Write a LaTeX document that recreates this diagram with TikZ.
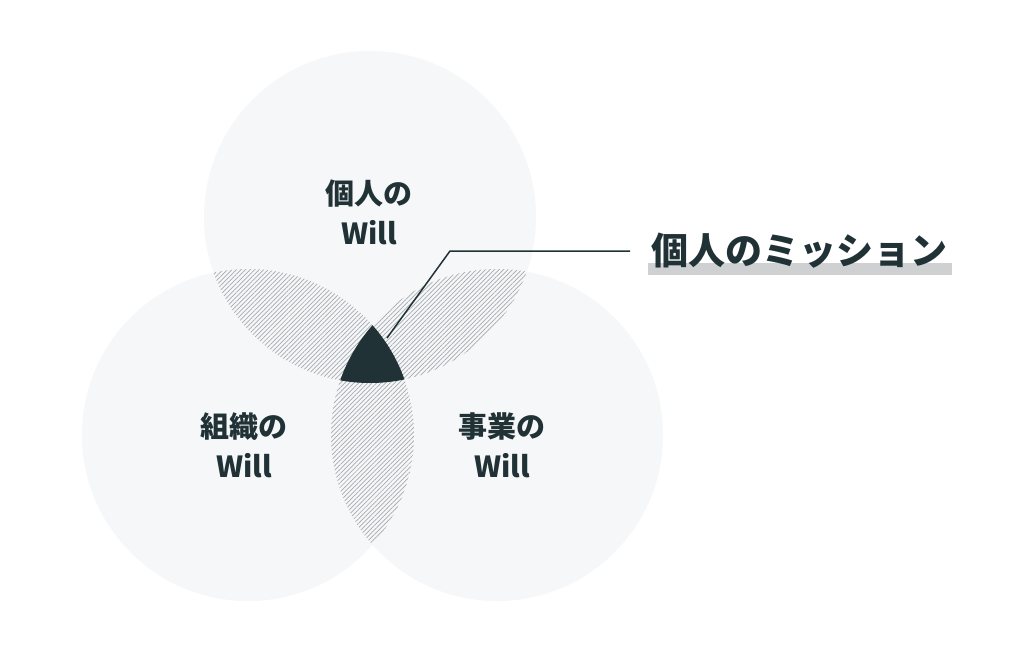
\documentclass[tikz,border=0pt]{standalone}
\usepackage{fontspec}
\setmainfont{Noto Sans CJK JP}
\usetikzlibrary{patterns.meta}
\definecolor{ink_dark}{RGB}{32,50,54}
\definecolor{circle_gray}{RGB}{246,247,249}
\definecolor{hatch_gray}{RGB}{165,170,175}
\definecolor{bar_gray}{RGB}{207,208,210}

\begin{document}
\begin{tikzpicture}[x=1pt,y=-1pt,semithick]
    \tikzstyle{will}=[circle, minimum size=332pt, inner sep=0pt, fill=circle_gray, draw=none]
    \tikzstyle{wtext}=[align=center, text=ink_dark, font=\bfseries\fontsize{29}{40}\selectfont]
    \tikzstyle{hatch}=[pattern={Lines[angle=45,distance=3.2pt,line width=0.7pt]}, pattern color=hatch_gray]

    \fill[white] (0,0) rectangle (1024,651);
    \useasboundingbox (0,0) rectangle (1024,651);

    \node[will] (top)   at (370,217) {};
    \node[will] (left)  at (248,435) {};
    \node[will] (right) at (497,435) {};

    \begin{scope} \clip (top.center) circle (166); \fill[hatch] (left.center) circle (166); \end{scope}
    \begin{scope} \clip (top.center) circle (166); \fill[hatch] (right.center) circle (166); \end{scope}
    \begin{scope} \clip (left.center) circle (166); \fill[hatch] (right.center) circle (166); \end{scope}
    \begin{scope}
      \clip (top.center) circle (166); \clip (left.center) circle (166);
      \fill[ink_dark] (right.center) circle (166);
    \end{scope}

    \node[wtext] (top_l)   at (369,212.5) {個人の\\Will};
    \node[wtext] (left_l)  at (244,445.5) {組織の\\Will};
    \node[wtext] (right_l) at (502,445.5) {事業の\\Will};

    \fill[bar_gray] (648,263) rectangle (952,275);
    \node[anchor=west, inner xsep=21pt, inner ysep=0pt, text=ink_dark, font=\bfseries\fontsize{37}{40}\selectfont] (mission) at (630,251) {個人のミッション};

    \coordinate (tip)  at (387,338);
    \coordinate (bend) at (450,251);
    \draw[ink_dark, line width=1.5pt] (tip) -- (bend) -- (mission.west);
\end{tikzpicture}
\end{document}
